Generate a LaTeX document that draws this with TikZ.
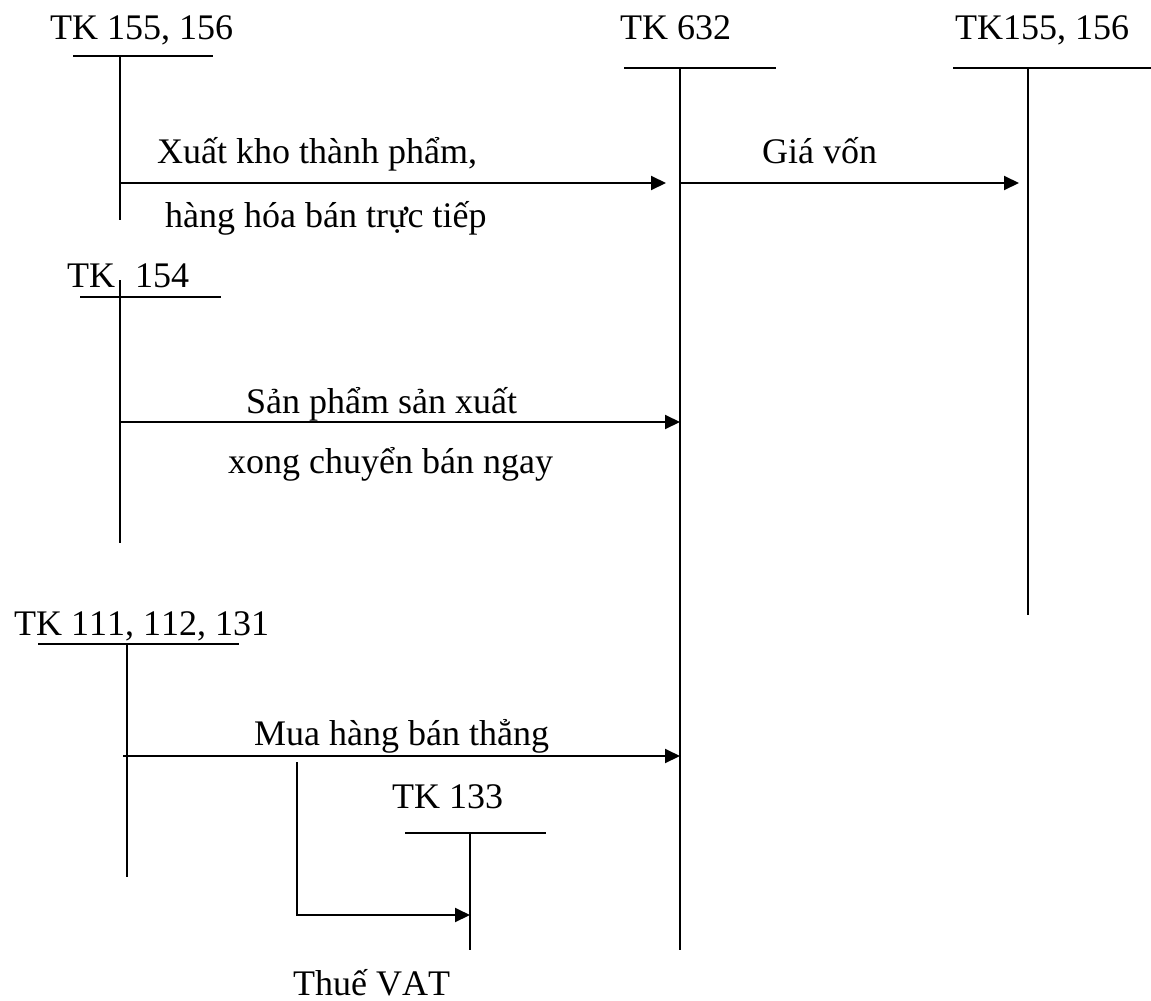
\documentclass[tikz,border=0pt]{standalone}
\usepackage{fontspec}
\setmainfont[Kerning=Off]{Liberation Serif}
\usetikzlibrary{arrows.meta}
\begin{document}
\begin{tikzpicture}[x=1pt,y=-1pt,
  lbl/.style={inner sep=0pt, anchor=base west, font=\fontsize{36}{43}\selectfont},
  tline/.style={line width=1.4pt},
  flow/.style={line width=2pt, -{Triangle[length=15pt,width=14pt]}}]
\useasboundingbox (0,0) rectangle (1151,1001);
% account titles
\node[lbl] (t1) at (50,39) {TK 155, 156};
\node[lbl] (t632) at (620,39) {TK 632};
\node[lbl] (t2) at (955,39) {TK155, 156};
\node[lbl] (t154) at (67,287) {TK\hspace{20pt}154};
\node[lbl] (t111) at (14,635) {TK 111, 112, 131};
\node[lbl] (t133) at (392,808) {TK 133};
% T-account coordinates
\coordinate (a1L) at (73,56);  \coordinate (a1R) at (213,56);
\coordinate (a1T) at (120,56); \coordinate (a1B) at (120,220);
\coordinate (a2L) at (624,68); \coordinate (a2R) at (776,68);
\coordinate (a2T) at (680,68); \coordinate (a2B) at (680,950);
\coordinate (a3L) at (953,68); \coordinate (a3R) at (1151,68);
\coordinate (a3T) at (1028,68); \coordinate (a3B) at (1028,615);
\coordinate (a4L) at (80,297); \coordinate (a4R) at (221,297);
\coordinate (a4T) at (120,280); \coordinate (a4B) at (120,543);
\coordinate (a5L) at (38,644); \coordinate (a5R) at (239,644);
\coordinate (a5T) at (127,644); \coordinate (a5B) at (127,877);
\coordinate (a6L) at (405,833); \coordinate (a6R) at (546,833);
\coordinate (a6T) at (470,833); \coordinate (a6B) at (470,950);
\foreach \n in {1,...,6}{
  \draw[tline] (a\n L) -- (a\n R);
  \draw[tline] (a\n T) -- (a\n B);
}
% flows
\coordinate (f1s) at (120,183); \coordinate (f1e) at (666,183);
\coordinate (f2s) at (680,183); \coordinate (f2e) at (1019,183);
\coordinate (f3s) at (120,422); \coordinate (f3e) at (680,422);
\coordinate (f4s) at (123,756); \coordinate (f4e) at (680,756);
\coordinate (f5s) at (297,762); \coordinate (f5e) at (470,915);
\draw[flow] (f1s) -- (f1e);
\draw[flow] (f2s) -- (f2e);
\draw[flow] (f3s) -- (f3e);
\draw[flow] (f4s) -- (f4e);
\draw[flow] (f5s) |- (f5e);
% flow labels
\node[lbl] (l1a) at (157,163) {Xuất kho thành phẩm,};
\node[lbl] (l1b) at (165,227) {hàng hóa bán trực tiếp};
\node[lbl] (l2) at (762,163) {Giá vốn};
\node[lbl] (l3a) at (246,413) {Sản phẩm sản xuất};
\node[lbl] (l3b) at (228,473) {xong chuyển bán ngay};
\node[lbl] (l4) at (254,745) {Mua hàng bán thẳng};
\node[lbl] (l5) at (293,995) {Thuế VAT};
\end{tikzpicture}
\end{document}
